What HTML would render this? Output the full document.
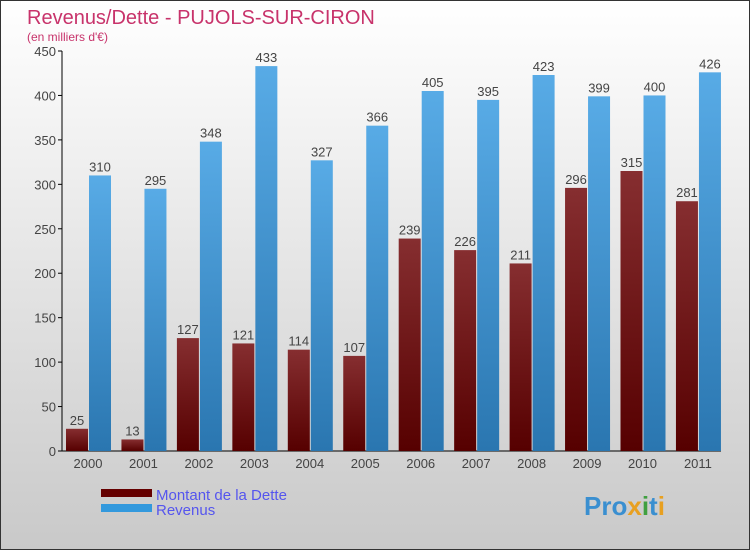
<!DOCTYPE html>
<html><head><meta charset="utf-8"><style>
body{margin:0}
#c{position:relative;width:748px;height:548px;border:1px solid #333;background:linear-gradient(#fff,#c9c9c9);font-family:"Liberation Sans",sans-serif;overflow:hidden}
</style></head><body>
<div id="c">
<svg width="748" height="548">
<defs>
<linearGradient id="gd" x1="0" y1="0" x2="0" y2="1"><stop offset="0" stop-color="#862e30"/><stop offset="1" stop-color="#560000"/></linearGradient>
<linearGradient id="gb" x1="0" y1="0" x2="0" y2="1"><stop offset="0" stop-color="#58abe6"/><stop offset="1" stop-color="#2a76b0"/></linearGradient>
</defs>
<text x="26" y="23" font-size="20" fill="#c8336b">Revenus/Dette - PUJOLS-SUR-CIRON</text>
<text x="26" y="40" font-size="12" fill="#c8336b">(en milliers d'€)</text>
<g id="axes"></g><g id="bars"></g>
<rect x="100" y="488" width="51" height="8" fill="#650000"/>
<rect x="100" y="503" width="51" height="8" fill="#3399dd"/>
<text x="155" y="499" font-size="15" fill="#5555ee">Montant de la Dette</text>
<text x="155" y="514" font-size="15" fill="#5555ee">Revenus</text>
<text x="583" y="514" font-size="26" font-weight="bold" fill="#3a8fd0">Pro<tspan fill="#e8a020">x</tspan><tspan fill="#40a040">i</tspan>t<tspan fill="#e8a020">i</tspan></text>
</svg></div>
<script>
const years=["2000","2001","2002","2003","2004","2005","2006","2007","2008","2009","2010","2011"];
const dette=[25,13,127,121,114,107,239,226,211,296,315,281];
const revenus=[310,295,348,433,327,366,405,395,423,399,400,426];
const ticks=[0,50,100,150,200,250,300,350,400,450];
const NS="http://www.w3.org/2000/svg";
const y=v=>450-v*400/450, gx=i=>87+i*55.45;
function mk(t,a,p){const e=document.createElementNS(NS,t);for(const k in a)e.setAttribute(k,a[k]);p.appendChild(e);return e;}
const ax=document.getElementById('axes'),bg=document.getElementById('bars');
let l=mk('line',{x1:61,y1:50,x2:61,y2:450,stroke:'#000'},ax);


l=mk('line',{x1:61,y1:450,x2:720,y2:450,stroke:'#000'},ax);


ticks.forEach(t=>{
 mk('line',{x1:57,x2:61,y1:y(t),y2:y(t),stroke:'#000'},ax);
 const tx=mk('text',{x:55,y:y(t)+5,'font-size':13,'text-anchor':'end',fill:'#444'},ax);tx.textContent=t;
 
 
});
years.forEach((yr,i)=>{
 const c=gx(i);
 const tx=mk('text',{x:c,y:467,'font-size':13,'text-anchor':'middle',fill:'#444'},ax);tx.textContent=yr;
 
 
 [[dette[i],c-22,'url(#gd)','bar-dette'],[revenus[i],c+1,'url(#gb)','bar-revenus']].forEach(([v,x,f,n])=>{
  const r=mk('rect',{x:x,y:y(v),width:22,height:450-y(v),fill:f},bg);
  
  
  const t=mk('text',{x:x+11,y:y(v)-4,'font-size':13,'text-anchor':'middle',fill:'#444'},bg);t.textContent=v;
  
  
 });
});
</script>
</body></html>
